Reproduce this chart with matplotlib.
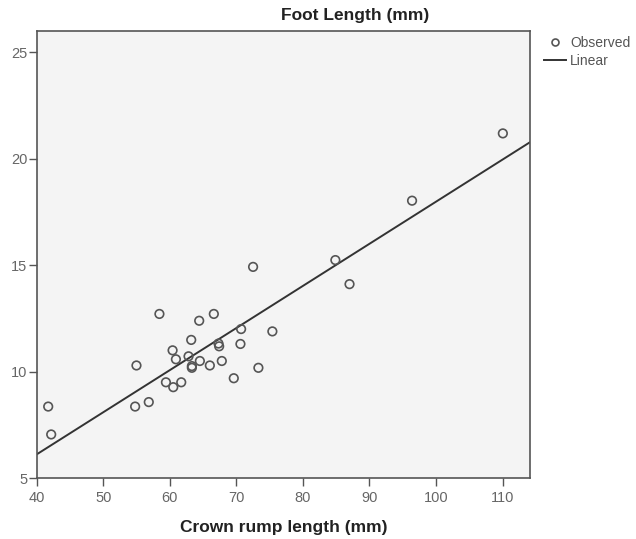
import matplotlib.pyplot as plt
from matplotlib.lines import Line2D

# 观测点 (crown rump length, foot length)
crl = [41.7, 42.15, 54.97, 54.77, 56.82, 58.42, 60.4, 60.9, 59.4, 60.5,
       61.7, 62.8, 63.2, 64.4, 63.3, 63.3, 64.5, 66.0, 66.6, 67.3,
       67.4, 67.8, 69.6, 70.6, 70.7, 73.3, 75.4, 72.5, 84.87, 87.0,
       96.4, 110.05]
foot = [8.36, 7.05, 10.29, 8.36, 8.57, 12.71, 11.0, 10.58, 9.5, 9.27,
        9.5, 10.72, 11.49, 12.39, 10.26, 10.18, 10.5, 10.29, 12.71, 11.32,
        11.19, 10.5, 9.69, 11.3, 12.0, 10.18, 11.89, 14.92, 15.24, 14.11,
        18.03, 21.19]

# 线性拟合线的两个端点
fit_x = [40, 114.1]
fit_y = [6.12, 20.77]

xticks = [40, 50, 60, 70, 80, 90, 100, 110]
yticks = [5, 10, 15, 20, 25]

plt.rcParams['font.family'] = ['Liberation Sans', 'DejaVu Sans']

fig = plt.figure(figsize=(6.36, 5.39), dpi=100)
ax = fig.add_axes([0.058, 0.113, 0.775, 0.8295])
ax.set_facecolor('#f4f4f4')

ax.plot(fit_x, fit_y, color='#333333', linewidth=1.4, zorder=2)
ax.scatter(crl, foot, s=38, facecolors='none', edgecolors='#555555', linewidths=1.2, zorder=3)

ax.set_xlim(40, 114.1)
ax.set_ylim(5, 26.0)
ax.set_xticks(xticks)
ax.set_yticks(yticks)
ax.tick_params(direction='out', length=6, width=1, colors='#555555', labelsize=10.5,
               labelcolor='#666666', pad=3)
ax.tick_params(axis='y', pad=1)
for s in ax.spines.values():
    s.set_color('#555555')
    s.set_linewidth(1.2)

fig.text(0.558, 0.972, 'Foot Length (mm)', ha='center', va='center',
         fontsize=12.5, fontweight='bold', color='#222222')
ax.set_xlabel('Crown rump length (mm)', fontsize=12.5, fontweight='bold',
              color='#222222', labelpad=11)

handles = [Line2D([], [], marker='o', linestyle='none', markerfacecolor='none',
                  markeredgecolor='#555555', markersize=5, markeredgewidth=1.2),
           Line2D([], [], color='#333333', linewidth=1.4)]
fig.legend(handles, ['Observed', 'Linear'], loc='upper left',
           bbox_to_anchor=(0.855, 0.933), frameon=False, fontsize=10,
           handlelength=1.6, handletextpad=0.3, labelspacing=0.3,
           labelcolor='#555555', borderaxespad=0, borderpad=0)

fig.savefig('out.png', dpi=100)
